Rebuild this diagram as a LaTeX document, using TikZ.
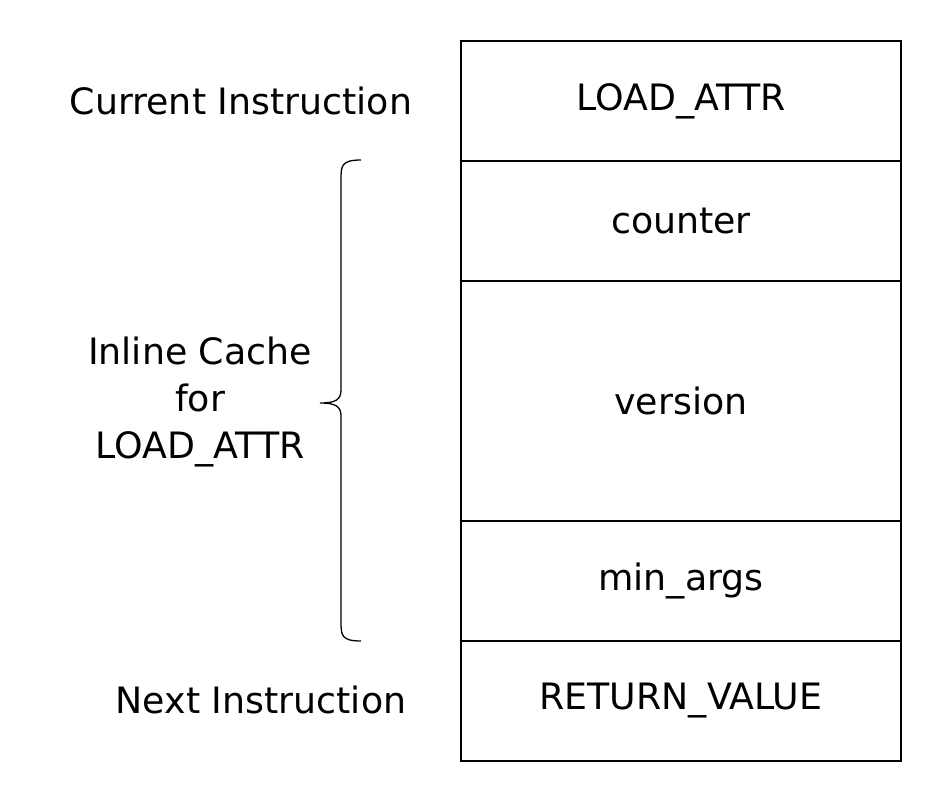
\documentclass[tikz,border=0pt]{standalone}
\usepackage{fontspec}
\setmainfont{DejaVu Sans}

\tikzset{
  cell/.style={draw, line width=1.1pt, minimum width=13.2cm, minimum height=3.6cm, inner sep=0pt, font=\fontsize{31}{36}\selectfont},
  tallcell/.style={cell, minimum height=7.2cm},
  label/.style={font=\fontsize{31}{40}\selectfont, align=center}
}

\begin{document}
\begin{tikzpicture}[x=0.03cm, y=-0.03cm]
    \useasboundingbox (0,0) rectangle (942,804);

    % instruction stream
    \node[cell] (load) at (681, 101) {LOAD\_ATTR};
    \node[cell] (counter) at (681, 221) {counter};
    \node[tallcell] (version) at (681, 401) {version};
    \node[cell] (minargs) at (681, 581) {min\_args};
    \node[cell] (ret) at (681, 701) {RETURN\_VALUE};

    % left side labels
    \node[label] (cur) at (241, 101) {Current Instruction};
    \node[label] (cache) at (200, 402) {Inline Cache\\for\\LOAD\_ATTR};
    \node[label] (next) at (261, 700) {Next Instruction};

    % brace
    \coordinate (bt) at (361, 160);
    \coordinate (btip) at (320, 403);
    \coordinate (bb) at (361, 641);
    \draw[line width=1.1pt] (bt) .. controls (341, 160) and (341, 166) .. (341, 180)
      -- (341, 390) .. controls (341, 400) and (335, 403) .. (btip)
      .. controls (335, 403) and (341, 406) .. (341, 416)
      -- (341, 621) .. controls (341, 635) and (341, 641) .. (bb);

  \end{tikzpicture}
\end{document}
